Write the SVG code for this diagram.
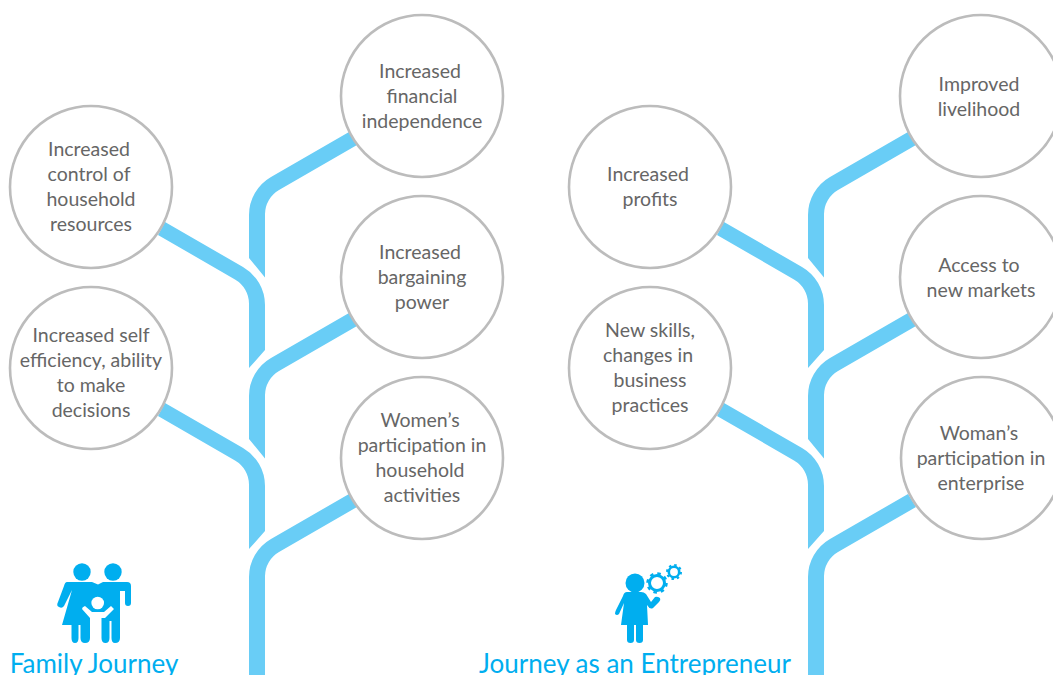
<svg xmlns="http://www.w3.org/2000/svg" width="1053" height="675" viewBox="0 0 1053 675">
<style>
.b{fill:#69cdf6}
.c{fill:#fff;stroke:#bcbcbc;stroke-width:2.6}
.t{font-family:Lato,"Open Sans",sans-serif;font-size:19.5px;fill:#666;text-anchor:middle}
.h{font-family:Lato,"Open Sans",sans-serif;font-size:26px;fill:#00aeef;text-anchor:middle}
.i{fill:#00aeef}
.w{fill:#fff}
</style>
<defs>
<path id="up" d="M249,258L265,277.5V214A28,28 0 0 1 279,190L357,145L349,132L271,177A44,44 0 0 0 249,215Z"/>
<path id="lf" d="M165,222L243,267A44,44 0 0 1 265,305V350L249,368V303.7A28,28 0 0 0 235,279.4L158,235Z"/>
<g id="tree"><use href="#up"/><use href="#up" y="181"/><path d="M249,675H265V576A28,28 0 0 1 279,552L357,507L349,494L271,539A44,44 0 0 0 249,577Z"/><use href="#lf"/><use href="#lf" y="181"/></g>
</defs>
<g id="connectors" class="b"><use href="#tree"/><use href="#tree" x="559"/></g>
<g id="n1"><circle class="c" cx="91" cy="187" r="81"/><text class="t" x="89" y="156">Increased</text><text class="t" x="89" y="181">control of</text><text class="t" x="91" y="206">household</text><text class="t" x="91" y="231">resources</text></g>
<g id="n2"><circle class="c" cx="91" cy="368" r="81"/><text class="t" x="91" y="342">Increased self</text><text class="t" x="91" y="367">efficiency, ability</text><text class="t" x="91" y="392">to make</text><text class="t" x="91" y="417">decisions</text></g>
<g id="n3"><circle class="c" cx="422" cy="96" r="81"/><text class="t" x="420" y="78">Increased</text><text class="t" x="422" y="103">financial</text><text class="t" x="422" y="128">independence</text></g>
<g id="n4"><circle class="c" cx="422" cy="277" r="81"/><text class="t" x="420" y="259">Increased</text><text class="t" x="422" y="284">bargaining</text><text class="t" x="422" y="309">power</text></g>
<g id="n5"><circle class="c" cx="422" cy="458" r="81"/><text class="t" x="420" y="427">Women’s</text><text class="t" x="422" y="452">participation in</text><text class="t" x="420" y="477">household</text><text class="t" x="422" y="502">activities</text></g>
<g id="n6"><circle class="c" cx="650" cy="187" r="81"/><text class="t" x="648" y="181">Increased</text><text class="t" x="650" y="206">profits</text></g>
<g id="n7"><circle class="c" cx="650" cy="368" r="81"/><text class="t" x="650" y="337">New skills,</text><text class="t" x="648" y="362">changes in</text><text class="t" x="650" y="387">business</text><text class="t" x="650" y="412">practices</text></g>
<g id="n8"><circle class="c" cx="981" cy="96" r="81"/><text class="t" x="979" y="91">Improved</text><text class="t" x="979" y="116">livelihood</text></g>
<g id="n9"><circle class="c" cx="981" cy="277" r="81"/><text class="t" x="979" y="272">Access to</text><text class="t" x="981" y="297">new markets</text></g>
<g id="n10"><circle class="c" cx="982" cy="458" r="81"/><text class="t" x="979" y="440">Woman’s</text><text class="t" x="981" y="465">participation in</text><text class="t" x="981" y="490">enterprise</text></g>
<g id="family"><circle class="i" cx="82" cy="572" r="8.7"/><circle class="i" cx="113" cy="572" r="8.7"/>
<path class="i" d="M67,582H92L98,584.5L103,582H127Q131,582 131,586V603Q131,606 128,606Q125,606 125,603V591H120V638Q120,643 115,643Q111.500,643 111.500,638V621H109.500V638Q109.500,643 105.500,643Q101.500,643 101.500,638V618H90V638Q90,643 85,643Q80.500,643 80.500,638V625H78.500V638Q78.500,643 75,643Q71.500,643 71.500,638V625H62L72,590L64,606Q62,609 59,607Q56,606 58,602L64,586Q65,582 67,582Z"/>
<circle class="w" cx="97.700" cy="603" r="6.300"/>
<path class="w" d="M85,606L92,612H104L111,606L114,609L105,618H90L82,609Q82,607 85,606Z"/>
<text class="h" x="94" y="673">Family Journey</text></g>
<g id="entrepreneur"><circle class="i" cx="635" cy="583" r="9.500"/>
<path class="i" d="M627,592H641Q644,592 646,594L651,602L655,597Q657,596 660,598Q661,600 659,602L653,608Q650,610 647,605L648,625H643V640Q643,643 639.500,643Q636,643 636,640V625H634V640Q634,643 630.500,643Q627,643 627,640V625H621L624,603L619,614Q617,616 615,614Q615,612 616,610L623,596Q624,592 627,592Z"/>
<circle cx="657" cy="583" r="7.500" fill="none" stroke="#00aeef" stroke-width="3"/><circle cx="657" cy="583" r="9.500" fill="none" stroke="#00aeef" stroke-width="2.500" stroke-dasharray="3.500 3.960"/>
<circle cx="674" cy="572" r="5.200" fill="none" stroke="#00aeef" stroke-width="2.600"/><circle cx="674" cy="572" r="7" fill="none" stroke="#00aeef" stroke-width="2" stroke-dasharray="2.500 3"/>
<text class="h" x="635" y="673">Journey as an Entrepreneur</text></g>
</svg>
